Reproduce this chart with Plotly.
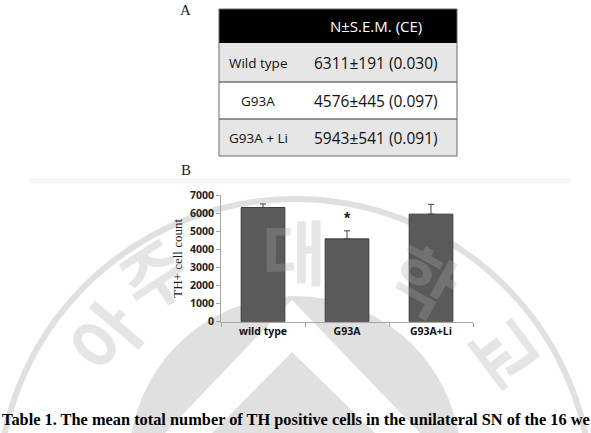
import plotly.graph_objects as go

W, H = 591, 433

# ---- data ----
table_header = "N\u00b1S.E.M. (CE)"
groups_table = ["Wild type", "G93A", "G93A + Li"]
table_values = ["6311\u00b1191 (0.030)", "4576\u00b1445 (0.097)", "5943\u00b1541 (0.091)"]

categories = ["wild type", "G93A", "G93A+Li"]
cell_counts = [6311, 4576, 5943]
sem = [191, 445, 541]
y_ticks = [0, 1000, 2000, 3000, 4000, 5000, 6000, 7000]
caption = "Table 1. The mean total number of TH positive cells in the unilateral SN of the 16 we"

def px(x):
    return x / W

def py(y):
    return 1 - y / H

fig = go.Figure()

# ---- bar chart (panel B) ----
fig.add_trace(go.Bar(
    x=categories, y=cell_counts,
    marker=dict(color="#5a5a5a", line=dict(color="#3c3c3c", width=1)),
    width=0.52,
    error_y=dict(type="data", symmetric=False, array=sem,
                 arrayminus=[0] * len(sem), color="#444444",
                 thickness=1, width=3),
    showlegend=False,
))

fig.update_xaxes(domain=[px(221), px(473)], showline=True, linecolor="#a6a6a6",
                 linewidth=1, ticks="outside", tickson="boundaries", ticklen=4,
                 tickcolor="#a6a6a6", showgrid=False, automargin=False,
                 tickfont=dict(family="Open Sans", size=10.5, color="#111111",
                               weight="bold"))
fig.update_yaxes(domain=[py(321.7), py(195)], range=[0, 7000], tickvals=y_ticks,
                 showline=True, linecolor="#a6a6a6", linewidth=1, ticks="outside",
                 ticklen=4, tickcolor="#a6a6a6", showgrid=False, zeroline=False,
                 automargin=False,
                 tickfont=dict(family="Open Sans", size=10.5, color="#222222",
                               weight="bold"),
                 title=dict(text="TH+ cell count", standoff=4,
                            font=dict(family="Liberation Serif", size=13, color="#222222")))


def note(x, y, text, font, **kw):
    d = dict(x=x, y=y, xref="paper", yref="paper", text=text, showarrow=False,
             xanchor=kw.pop("xanchor", "center"), yanchor=kw.pop("yanchor", "middle"),
             font=font)
    d.update(kw)
    return d


annotations = [
    dict(x="G93A", y=5700, xref="x", yref="y", text="*", showarrow=False,
         xanchor="center", yanchor="middle",
         font=dict(family="Liberation Sans", size=16, color="#222222", weight="bold")),
    note(px(185), py(10), "A", dict(family="Liberation Serif", size=15, color="#222222")),
    note(px(186), py(170), "B", dict(family="Liberation Serif", size=15, color="#222222")),
    note(0, py(419), caption,
         dict(family="Liberation Serif", size=16.35, color="#000000", weight="bold"),
         xanchor="left"),
]

# ---- table (panel A) drawn with shapes + text ----
tx0, tx1 = 219, 457
header_y0, header_y1 = 9, 43
row_edges = [43, 82, 119, 156]
row_fills = ["#e6e6e6", "#ffffff", "#e6e6e6"]
col1_cx, col2_cx = 258, 376

shapes = []
shapes.append(dict(type="rect", xref="paper", yref="paper", layer="below",
                   x0=px(tx0), x1=px(tx1), y0=py(header_y1), y1=py(header_y0),
                   line=dict(width=0), fillcolor="#000000"))
annotations.append(note(px(col2_cx), py((header_y0 + header_y1) / 2), table_header,
                        dict(family="Open Sans", size=15, color="white")))
for i, (g, v) in enumerate(zip(groups_table, table_values)):
    y0, y1 = row_edges[i], row_edges[i + 1]
    shapes.append(dict(type="rect", xref="paper", yref="paper", layer="below",
                       x0=px(tx0), x1=px(tx1), y0=py(y1), y1=py(y0),
                       line=dict(width=0), fillcolor=row_fills[i]))
    cy = (y0 + y1) / 2
    annotations.append(note(px(col1_cx), py(cy), g,
                            dict(family="Open Sans", size=13.5, color="#111111")))
    annotations.append(note(px(col2_cx), py(cy), v,
                            dict(family="Open Sans", size=15.5, color="#111111")))
    if i > 0:
        shapes.append(dict(type="line", xref="paper", yref="paper",
                           x0=px(tx0), x1=px(tx1), y0=py(y0), y1=py(y0),
                           line=dict(color="#333333", width=1)))
shapes.append(dict(type="rect", xref="paper", yref="paper",
                   x0=px(tx0), x1=px(tx1), y0=py(row_edges[-1]), y1=py(header_y0),
                   line=dict(color="#6a6a6a", width=1)))

# ---- faint watermark (emblem) ----
wm = "rgba(170,170,170,0.3)"
wm_letters = [("\uc544", 102, 335, -50), ("\uc8fc", 152, 272, -33), ("\ub300", 294, 250, 0),
              ("\ud559", 425, 278, 29), ("\uad50", 508, 350, 53)]
for ch, cx, cy, ang in wm_letters:
    annotations.append(note(px(cx), py(cy), ch,
                            dict(family="Noto Sans CJK KR", size=70, color=wm, weight="bold"),
                            textangle=ang))

ccx, ccy, r_out = 295, 496, 297
icy, r_in = 462, 166
shapes += [
    dict(type="circle", xref="paper", yref="paper", layer="below",
         x0=px(ccx - r_out), x1=px(ccx + r_out), y0=py(ccy + r_out), y1=py(ccy - r_out),
         line=dict(color="#e0e0e0", width=6)),
    dict(type="circle", xref="paper", yref="paper", layer="below",
         x0=px(ccx - r_in), x1=px(ccx + r_in), y0=py(icy + r_in), y1=py(icy - r_in),
         line=dict(width=0), fillcolor="#e0e0e0"),
    dict(type="path", xref="paper", yref="paper", layer="below",
         path=f"M {px(165)} {py(433)} L {px(292)} {py(300)} L {px(420)} {py(433)} "
              f"L {px(375)} {py(433)} L {px(292)} {py(352)} L {px(212)} {py(433)} Z",
         line=dict(width=0), fillcolor="white"),
    dict(type="line", xref="paper", yref="paper", layer="below",
         x0=px(30), x1=px(570), y0=py(181), y1=py(181),
         line=dict(color="#f6f6f6", width=5)),
]

fig.update_layout(annotations=annotations, shapes=shapes)
fig.update_layout(width=W, height=H,
                  margin=dict(l=0, r=0, t=0, b=0, pad=0, autoexpand=False),
                  paper_bgcolor="white", plot_bgcolor="rgba(0,0,0,0)",
                  bargap=0.48, showlegend=False)

fig.write_html("out.html")
